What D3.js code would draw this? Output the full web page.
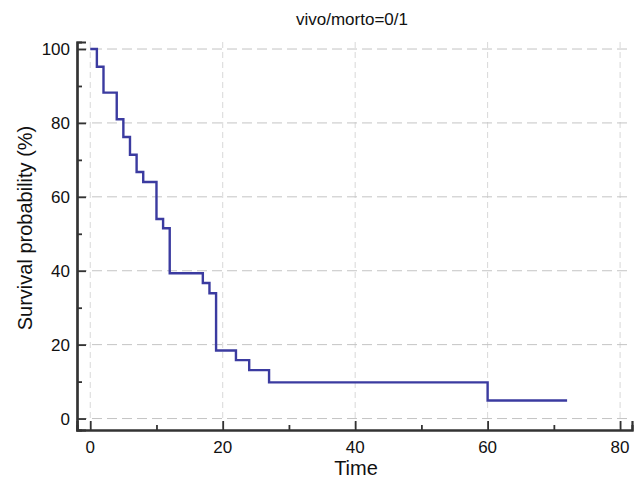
<!DOCTYPE html>
<html>
<head>
<meta charset="utf-8">
<script src="https://d3js.org/d3.v7.min.js"></script>
<style>
  body { margin: 0; background: #fff; }
  text { font-family: "Liberation Sans", Arial, sans-serif; fill: #111; }
</style>
</head>
<body>
<div id="chart"></div>
<script>
// step times and survival (%)
var times    = [0, 1, 2, 4, 5, 6, 7, 8, 10, 11, 12, 17, 18, 19, 22, 24, 27, 60];
var survival = [100, 95.2, 88.2, 81.0, 76.2, 71.4, 66.7, 64.0, 54.0, 51.5, 39.3, 36.7, 33.9, 18.4, 15.8, 13.1, 9.8, 4.9];
var endTime = 72;
var xTicks = [0, 20, 40, 60, 80];
var yTicks = [0, 20, 40, 60, 80, 100];
var xMinor = [10, 30, 50, 70];
var yMinor = [10, 30, 50, 70, 90];

var W = 641, H = 485;
var xScale = d3.scaleLinear().domain([-2, 81.8]).range([77, 632]);
var yScale = d3.scaleLinear().domain([-3.1, 101.9]).range([430, 42]);

var svg = d3.select("#chart").append("svg")
    .attr("width", W).attr("height", H);

// grid
svg.append("g").selectAll("line")
    .data(xTicks).enter().append("line")
    .attr("x1", function (d) { return xScale(d); })
    .attr("x2", function (d) { return xScale(d); })
    .attr("y1", yScale(101.9)).attr("y2", yScale(-3.1))
    .attr("stroke", "#d8d8d8").attr("stroke-width", 1)
    .attr("stroke-dasharray", "6,4");

svg.append("g").selectAll("line")
    .data(yTicks).enter().append("line")
    .attr("x1", xScale(-2)).attr("x2", xScale(81.8))
    .attr("y1", function (d) { return yScale(d); })
    .attr("y2", function (d) { return yScale(d); })
    .attr("stroke", "#c4c4c4").attr("stroke-width", 1)
    .attr("stroke-dasharray", "10,5");

// axes, ticks pointing inward
var xAxis = d3.axisTop(xScale).tickValues(xTicks).tickSize(9).tickFormat("");
var yAxis = d3.axisRight(yScale).tickValues(yTicks).tickSize(9).tickFormat("");

var gX = svg.append("g").attr("transform", "translate(0," + yScale(-3.1) + ")").call(xAxis);
svg.append("g").attr("transform", "translate(0," + yScale(-3.1) + ")")
    .call(d3.axisTop(xScale).tickValues(xMinor).tickSize(5).tickFormat(""));
var gY = svg.append("g").attr("transform", "translate(" + xScale(-2) + ",0)").call(yAxis);
svg.append("g").attr("transform", "translate(" + xScale(-2) + ",0)")
    .call(d3.axisRight(yScale).tickValues(yMinor).tickSize(5).tickFormat(""));

svg.selectAll(".domain").attr("stroke", "#333").attr("stroke-width", 2.2);
svg.selectAll(".tick line").attr("stroke", "#333").attr("stroke-width", 1.8);

// tick labels
svg.append("g").selectAll("text")
    .data(xTicks).enter().append("text")
    .attr("x", function (d) { return xScale(d); })
    .attr("y", 453)
    .attr("text-anchor", "middle")
    .attr("font-size", 17)
    .text(function (d) { return d; });

svg.append("g").selectAll("text")
    .data(yTicks).enter().append("text")
    .attr("x", 70)
    .attr("y", function (d) { return yScale(d) + 6; })
    .attr("text-anchor", "end")
    .attr("font-size", 17)
    .text(function (d) { return d; });

// survival curve (step after)
var pts = times.map(function (t, i) { return [t, survival[i]]; });
pts.push([endTime, survival[survival.length - 1]]);
var line = d3.line()
    .x(function (d) { return xScale(d[0]); })
    .y(function (d) { return yScale(d[1]); })
    .curve(d3.curveStepAfter);

svg.append("path")
    .datum(pts)
    .attr("d", line)
    .attr("fill", "none")
    .attr("stroke", "#3b3ba0")
    .attr("stroke-width", 2.4);

// labels
svg.append("text")
    .attr("x", 352).attr("y", 25)
    .attr("text-anchor", "middle")
    .attr("font-size", 17)
    .text("vivo/morto=0/1");

svg.append("text")
    .attr("x", 356).attr("y", 475)
    .attr("text-anchor", "middle")
    .attr("font-size", 20)
    .text("Time");

svg.append("text")
    .attr("transform", "translate(32,228) rotate(-90)")
    .attr("text-anchor", "middle")
    .attr("font-size", 20)
    .text("Survival probability (%)");
</script>
</body>
</html>
